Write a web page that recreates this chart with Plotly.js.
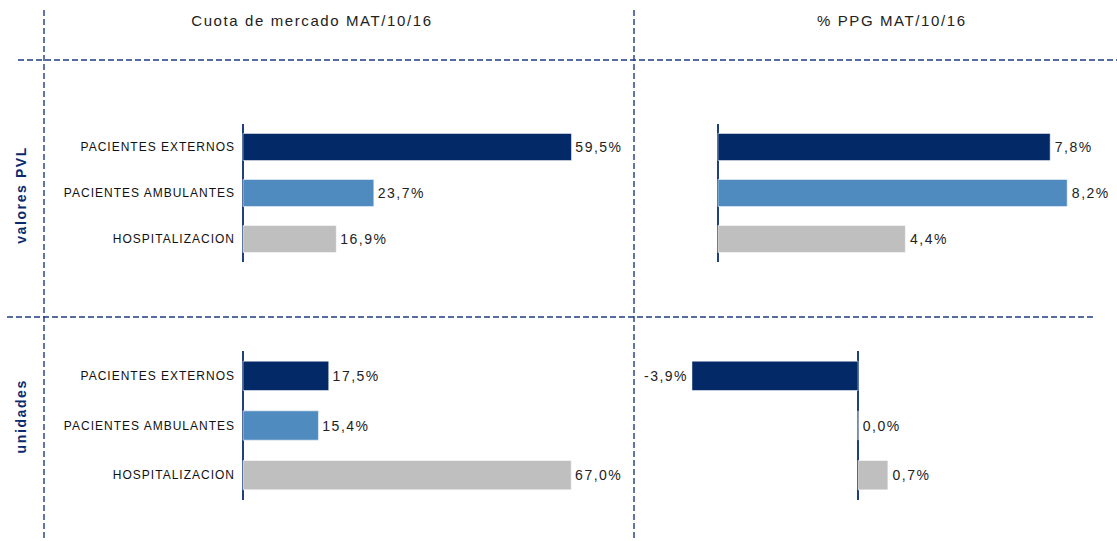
<!DOCTYPE html>
<html>
<head>
<meta charset="utf-8">
<script src="https://cdn.plot.ly/plotly-3.0.1.min.js"></script>
<style>
  body { margin: 0; background: #fff; }
  #chart { width: 1117px; height: 541px; }
  /* the original text is drawn loosely spaced */
  #chart .ytick text, #chart .y3tick text { letter-spacing: 1px; }
  #chart text.bartext { letter-spacing: 1.5px; }
  #chart .annotation-text { letter-spacing: 1.6px; }
</style>
</head>
<body>
<div id="chart"></div>
<script>
// categories, top to bottom
const canales = ["PACIENTES EXTERNOS", "PACIENTES AMBULANTES", "HOSPITALIZACION"];

// valores PVL
const cuotaValores = [59.5, 23.7, 16.9];
const ppgValores = [7.8, 8.2, 4.4];

// unidades
const cuotaUnidades = [17.5, 15.4, 67.0];
const ppgUnidades = [-3.9, 0.0, 0.7];

const colores = ["#032a67", "#4f8bbf", "#bfbfbf"];

const W = 1117, H = 541;
const px = (x) => x / W;
const py = (y) => 1 - y / H;

// one bar trace per panel; a no-break space keeps the label off the bar end
function barTrace(values, xa, ya) {
  return {
    type: "bar",
    orientation: "h",
    x: values,
    y: canales,
    xaxis: xa,
    yaxis: ya,
    marker: { color: colores, line: { color: "rgba(255,255,255,0.5)", width: 1 } },
    texttemplate: values.map(v => v < 0 ? "%{x:.1f}%\u00a0" : "\u00a0%{x:.1f}%"),
    textposition: "outside",
    cliponaxis: false,
    textfont: { family: "Liberation Sans, Arial, sans-serif", size: 14, color: "#222" },
    hoverinfo: "skip",
    showlegend: false
  };
}

const data = [
  barTrace(cuotaValores, "x", "y"),
  barTrace(ppgValores, "x2", "y2"),
  barTrace(cuotaUnidades, "x3", "y3"),
  barTrace(ppgUnidades, "x4", "y4")
];

const catAxis = (domain, showLabels) => ({
  domain: domain,
  type: "category",
  autorange: "reversed",
  showgrid: false,
  zeroline: false,
  showline: false,
  ticks: "",
  showticklabels: showLabels,
  ticklabelstandoff: 2,
  tickfont: { family: "Liberation Sans, Arial, sans-serif", size: 12, color: "#111" }
});

const valAxis = (domain, range) => ({
  domain: domain,
  range: range,
  showgrid: false,
  showticklabels: false,
  ticks: "",
  zeroline: true,
  zerolinecolor: "#1f3f7f",
  zerolinewidth: 1.5,
  fixedrange: true
});

const topRow = [py(262), py(124)];
const botRow = [py(500), py(351)];
const leftCol = [px(238), px(630)];
const rightCol = [px(640), px(1100)];

const dashLine = { color: "#1d3c82", width: 1.4, dash: "6px,3px" };

function note(text, x, y, size, color, angle) {
  return {
    text: text, x: px(x), y: py(y), xref: "paper", yref: "paper",
    xanchor: "center", yanchor: "middle", textangle: angle || 0,
    showarrow: false, font: { size: size, color: color }
  };
}

const layout = {
  width: W,
  height: H,
  margin: { l: 0, r: 0, t: 0, b: 0 },
  paper_bgcolor: "#fff",
  plot_bgcolor: "rgba(0,0,0,0)",
  separators: ",.",
  bargap: 0.41,
  font: { family: "Liberation Sans, Arial, sans-serif" },
  xaxis: valAxis(leftCol, [-0.9, 70.1]),
  yaxis: catAxis(topRow, true),
  xaxis2: valAxis(rightCol, [-1.83, 8.97]),
  yaxis2: catAxis(topRow, false),
  xaxis3: valAxis(leftCol, [-1.02, 79.0]),
  yaxis3: catAxis(botRow, true),
  xaxis4: valAxis(rightCol, [-5.12, 5.68]),
  yaxis4: catAxis(botRow, false),
  annotations: [
    note("Cuota de mercado MAT/10/16", 312, 20, 15, "#222"),
    note("% PPG MAT/10/16", 892, 20, 15, "#222"),
    note("<b>valores PVL</b>", 21, 195, 14, "#0a2a6e", -90),
    note("<b>unidades</b>", 21, 416, 14, "#0a2a6e", -90)
  ],
  shapes: [
    { type: "line", xref: "paper", yref: "paper", x0: px(44), x1: px(44), y0: py(10), y1: 0, line: dashLine },
    { type: "line", xref: "paper", yref: "paper", x0: px(634), x1: px(634), y0: py(10), y1: 0, line: dashLine },
    { type: "line", xref: "paper", yref: "paper", x0: px(18), x1: 1, y0: py(60), y1: py(60), line: dashLine },
    { type: "line", xref: "paper", yref: "paper", x0: px(7), x1: px(1093), y0: py(317), y1: py(317), line: dashLine }
  ]
};

Plotly.newPlot("chart", data, layout, { displayModeBar: false, staticPlot: true });
</script>
</body>
</html>
